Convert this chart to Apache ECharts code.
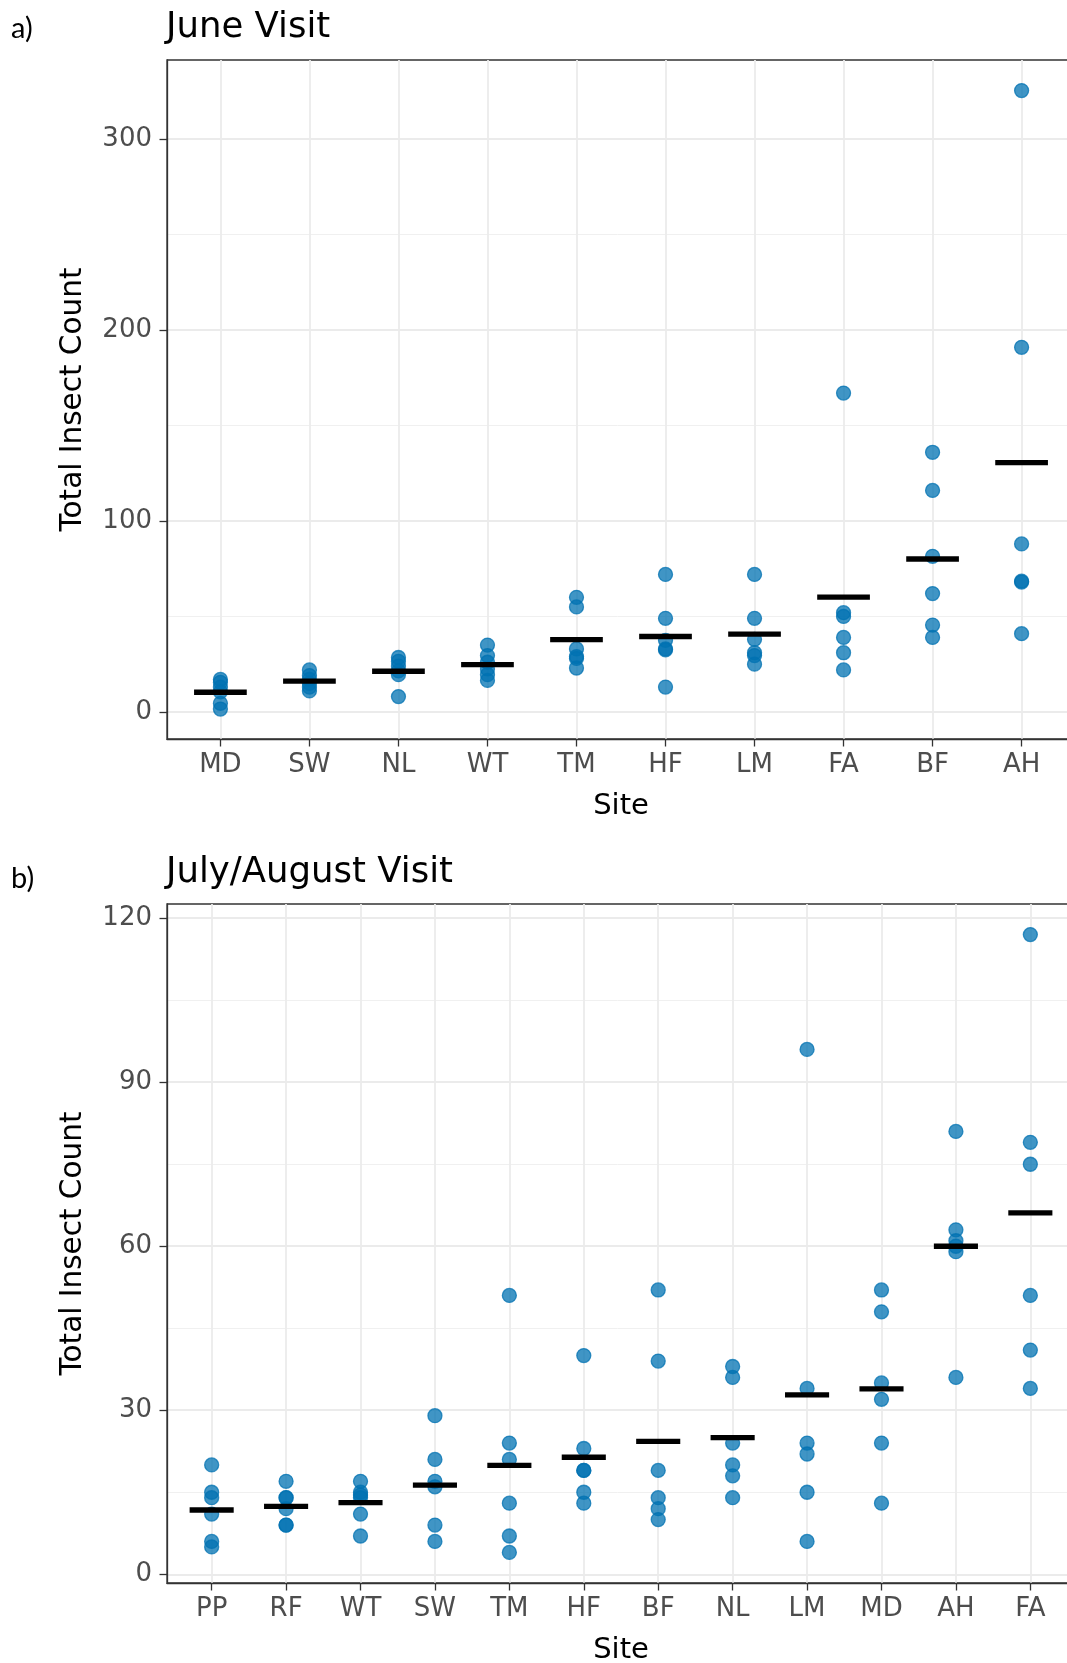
<!DOCTYPE html>
<html>
<head>
<meta charset="utf-8">
<script src="https://cdn.jsdelivr.net/npm/echarts@6/dist/echarts.min.js"></script>
<style>
  html, body { margin: 0; padding: 0; background: #ffffff; }
  #chart { width: 1067px; height: 1663px; }
</style>
</head>
<body>
<div id="chart"></div>
<script>
// ---- June visit: total insect count per trap, grouped by site ----
const juneSites = ['MD', 'SW', 'NL', 'WT', 'TM', 'HF', 'LM', 'FA', 'BF', 'AH'];
const juneCounts = [
  [17, 15.5, 13, 10.5, 4.5, 1.5],
  [22, 19, 17, 15, 13, 11],
  [28.5, 26.5, 24, 21.5, 19.5, 8],
  [35, 29.5, 26, 22.5, 19.5, 16.5],
  [60, 55, 33, 29, 28, 23],
  [72, 49, 37.5, 33, 32.5, 13],
  [72, 49, 38, 31, 29.5, 25],
  [167, 52, 50, 39, 31, 22],
  [136, 116, 81.5, 62, 45.5, 39],
  [325.5, 191, 88, 68.5, 68, 41]
];
const juneMeans = [10.3, 16.1, 21.3, 24.8, 37.9, 39.5, 40.7, 60.1, 80.1, 130.6];
const juneTicks = [0, 100, 200, 300];
const juneMinorTicks = [50, 150, 250];

// ---- July/August visit ----
const julySites = ['PP', 'RF', 'WT', 'SW', 'TM', 'HF', 'BF', 'NL', 'LM', 'MD', 'AH', 'FA'];
const julyCounts = [
  [20, 15, 14, 11, 6, 5],
  [17, 14, 14, 12, 9, 9],
  [17, 15, 14.5, 14, 11, 7],
  [29, 21, 17, 16, 9, 6],
  [51, 24, 21, 13, 7, 4],
  [40, 23, 19, 19, 15, 13],
  [52, 39, 19, 14, 12, 10],
  [38, 36, 24, 20, 18, 14],
  [96, 34, 24, 22, 15, 6],
  [52, 48, 35, 32, 24, 13],
  [81, 63, 61, 60, 59, 36],
  [117, 79, 75, 51, 41, 34]
];
const julyMeans = [11.75, 12.4, 13.1, 16.3, 19.9, 21.4, 24.3, 25.0, 32.8, 33.9, 60.0, 66.1];
const julyTicks = [0, 30, 60, 90, 120];
const julyMinorTicks = [15, 45, 75, 105];

// ---- shared styling ----
const FONT = 'DejaVu Sans';
const GRID_MAJOR = '#EBEBEB';
const INK = '#333333';
const POINT = 'rgba(0,114,178,0.75)';

function positions(n) {
  const out = [];
  for (let i = 1; i <= n; i++) out.push(i);
  return out;
}

function xAxisFor(gridIndex, sites) {
  const pos = positions(sites.length);
  return {
    type: 'value',
    gridIndex: gridIndex,
    min: 0.4,
    max: sites.length + 0.6,
    name: 'Site',
    nameLocation: 'middle',
    nameGap: 53,
    nameTextStyle: { fontFamily: FONT, fontSize: 29, color: '#000000' },
    axisLine: { show: true, onZero: false, lineStyle: { color: INK, width: 1.3 } },
    axisTick: { show: true, length: 7.5, customValues: pos, lineStyle: { color: INK, width: 1.3 } },
    axisLabel: {
      show: true, customValues: pos, margin: 13,
      fontFamily: FONT, fontSize: 26, color: '#4D4D4D',
      formatter: function (v) { return sites[Math.round(v) - 1] || ''; }
    },
    splitLine: { show: true, lineStyle: { color: GRID_MAJOR, width: 1.8 } },
    minorSplitLine: { show: false }
  };
}

function yAxesFor(gridIndex, min, max, ticks, minorTicks) {
  return [
    {
      type: 'value',
      gridIndex: gridIndex,
      min: min,
      max: max,
      name: 'Total Insect Count',
      nameLocation: 'middle',
      nameRotate: 90,
      nameGap: 79,
      nameTextStyle: { fontFamily: FONT, fontSize: 29.5, color: '#000000' },
      axisLine: { show: true, onZero: false, lineStyle: { color: INK, width: 1.3 } },
      axisTick: { show: true, length: 7.5, customValues: ticks, lineStyle: { color: INK, width: 1.3 } },
      axisLabel: {
        show: true, customValues: ticks, margin: 15,
        fontFamily: FONT, fontSize: 26, color: '#4D4D4D'
      },
      splitLine: { show: true, lineStyle: { color: GRID_MAJOR, width: 1.8 } }
    },
    {
      // minor grid lines only
      type: 'value',
      gridIndex: gridIndex,
      position: 'left',
      min: min,
      max: max,
      axisLine: { show: false },
      axisTick: { show: false, customValues: minorTicks },
      axisLabel: { show: false, customValues: minorTicks },
      splitLine: { show: true, lineStyle: { color: '#F0F0F0', width: 1 } }
    }
  ];
}

function pointSeries(axisIdx, counts) {
  const data = [];
  counts.forEach(function (vals, i) {
    vals.forEach(function (v) { data.push([i + 1, v]); });
  });
  return {
    type: 'scatter',
    xAxisIndex: axisIdx.x,
    yAxisIndex: axisIdx.y,
    data: data,
    symbol: 'circle',
    symbolSize: 14,
    itemStyle: { color: POINT, borderColor: POINT, borderWidth: 1.3, opacity: 1 },
    emphasis: { disabled: true },
    z: 3
  };
}

function meanSeries(axisIdx, means, barWidth) {
  return {
    type: 'scatter',
    xAxisIndex: axisIdx.x,
    yAxisIndex: axisIdx.y,
    data: means.map(function (m, i) { return [i + 1, m]; }),
    symbol: 'rect',
    symbolSize: [barWidth, 5.3],
    itemStyle: { color: '#000000', opacity: 1 },
    emphasis: { disabled: true },
    z: 4
  };
}

const titleStyle = { fontFamily: FONT, fontSize: 35.5, fontWeight: 'normal', color: '#000000' };
const tagStyle = { fontFamily: 'Lato', fontSize: 29, fontWeight: 'normal', color: '#000000' };

const gridCommon = {
  show: true,
  borderColor: INK,
  borderWidth: 1.3,
  backgroundColor: 'transparent',
  containLabel: false,
  outerBoundsMode: 'none'
};

const option = {
  backgroundColor: '#ffffff',
  animation: false,
  title: [
    { text: 'June Visit', left: 166, top: 10, padding: 0, textStyle: titleStyle },
    { text: 'July/August Visit', left: 166, top: 855, padding: 0, textStyle: titleStyle },
    { text: 'a)', left: 11, top: 14, padding: 0, textStyle: tagStyle },
    { text: 'b)', left: 11, top: 864, padding: 0, textStyle: tagStyle }
  ],
  grid: [
    Object.assign({ left: 167, top: 60, width: 908, height: 679 }, gridCommon),
    Object.assign({ left: 167, top: 904, width: 908, height: 679 }, gridCommon)
  ],
  xAxis: [
    xAxisFor(0, juneSites),
    xAxisFor(1, julySites)
  ],
  yAxis: [].concat(
    yAxesFor(0, -14.2, 341.5, juneTicks, juneMinorTicks),
    yAxesFor(1, -1.6, 122.6, julyTicks, julyMinorTicks)
  ),
  series: [
    pointSeries({ x: 0, y: 0 }, juneCounts),
    meanSeries({ x: 0, y: 0 }, juneMeans, 52.7),
    pointSeries({ x: 1, y: 2 }, julyCounts),
    meanSeries({ x: 1, y: 2 }, julyMeans, 44.1)
  ]
};

const chart = echarts.init(document.getElementById('chart'), null, { renderer: 'canvas' });
chart.setOption(option);
</script>
</body>
</html>
